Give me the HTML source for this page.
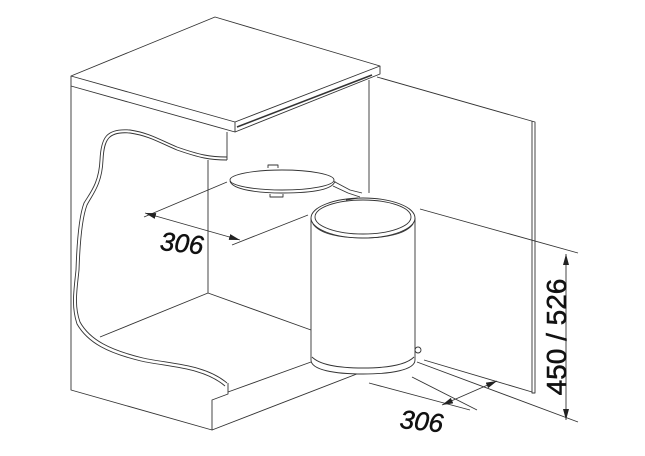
<!DOCTYPE html>
<html><head><style>
html,body{margin:0;padding:0;background:#fff;}
svg{display:block;}
text{font-family:"Liberation Sans",sans-serif;fill:#111;stroke:#111;stroke-width:0.5;}
</style></head><body>
<svg width="645" height="456" viewBox="0 0 645 456" xmlns="http://www.w3.org/2000/svg">
<defs>
<marker id="a" markerWidth="11" markerHeight="6" refX="11" refY="3" orient="auto-start-reverse" markerUnits="userSpaceOnUse">
<path d="M0,0 L11,3 L0,6 z" fill="#222"/></marker>
</defs>
<g fill="none" stroke="#333" stroke-width="0.9" stroke-linejoin="round">
<path d="M71,76 L215,17 L380,66 L235,122 Z" fill="#fff"/>
<path d="M71,76 L71,86 L235,132 L235,122"/>
<path d="M235,132 L380,74 L380,66"/>
<path d="M237,127 L372,75" stroke-width="1.6"/>
<path d="M71,86 L71,390 L212,430 L212,400 L228,394 L228,383"/>
<path d="M212,430 L380,365"/>
<path d="M227,132 L227,160"/>
<path d="M227,160 C210,160 200,158 177,150 C160,143 150,136 130,133 C108,131 104,140 103,160 C102,185 92,195 87,205 C82,218 80,240 79,270 C77,290 74,305 80,322 C90,340 110,350 143,358 C170,364 205,364 227,383"/>
<path d="M227,157 C210,157 200,155 177,147 C160,140 150,133 130,130 C106,128 101,138 100,160 C99,183 90,193 84,203 C79,216 77,240 76,270 C74,290 71,306 77,324 C88,343 108,353 141,361 C168,367 203,367 225,386"/>
<path d="M208,160 L208,293 L100,337"/>
<path d="M208,293 L311,330"/>
<path d="M228,392 L311,362"/>
<path d="M369,80 L369,193"/>
<path d="M377,77 L535,122 L535,393 L532,393 L532,121"/>
<path d="M532,392 L424,360"/>
<ellipse cx="282" cy="180" rx="52" ry="10" fill="#fff"/>
<path d="M230,181 C232,190 260,193 282,193 C310,193 333,190 335,181"/>
<path d="M268,168 L268,165 L278,165 L278,168"/>
<path d="M270,194 L270,197 L283,197 L283,194"/>
<path d="M335,182 L350,190 L362,193"/>
<path d="M333,186 L348,193 L360,197"/>
<path d="M311,218 L311,360 C311,370 335,374 363,374 C391,374 415,370 415,360 L415,218" fill="#fff"/>
<path d="M312,357 C320,365 340,368 363,368 C386,368 406,365 414,357"/>
<ellipse cx="363" cy="218" rx="52" ry="20" fill="#fff"/>
<ellipse cx="363" cy="217" rx="48" ry="17"/>
<path d="M313,224 C320,234 340,238 363,238 C386,238 406,234 413,224"/>
<path d="M346,200 L358,198"/>
<circle cx="418" cy="350" r="3"/>
<path d="M227,182 L144,217"/>
<path d="M308,215 L232,245"/>
<path d="M145,213 L240,240" marker-start="url(#a)" marker-end="url(#a)"/>
<path d="M420,209 L578,253"/>
<path d="M417,362 L578,422"/>
<path d="M566,254 L566,420" marker-start="url(#a)" marker-end="url(#a)"/>
<path d="M412,377 L477,410"/>
<path d="M369,383 L470,410"/>
<path d="M497,381 L442,405" marker-start="url(#a)" marker-end="url(#a)"/>
</g>
<text x="160" y="252" font-size="26" font-style="italic" transform="rotate(6 180 245)">306</text>
<text x="400" y="430" font-size="26" font-style="italic" transform="rotate(6 420 420)">306</text>
<text x="0" y="0" font-size="28" text-anchor="middle" transform="translate(566,337) rotate(-90)">450 / 526</text>
</svg>
</body></html>
